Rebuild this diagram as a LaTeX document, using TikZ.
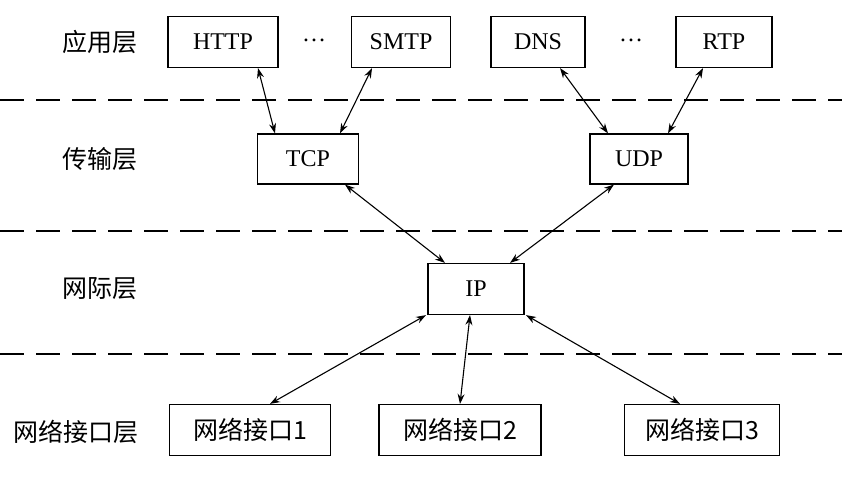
\documentclass[tikz,border=0pt]{standalone}
\usepackage{fontspec}
\setmainfont{Liberation Serif}
\newfontfamily\cjk{Noto Sans CJK SC}
\usetikzlibrary{positioning,arrows.meta}
\begin{document}
\begin{tikzpicture}[x=1pt,y=-1pt,
  box/.style={draw,line width=1.2pt,rectangle,minimum height=51pt,inner sep=0pt,
    font=\fontsize{24}{28}\selectfont},
  lay/.style={font=\cjk\fontsize{25}{28}\selectfont},
  sep/.style={line width=1.2pt,dash pattern=on 24pt off 12pt},
  link/.style={line width=1.1pt,{Stealth[length=10pt,width=7pt]}-{Stealth[length=10pt,width=7pt]}}]
\useasboundingbox (0,0) rectangle (842,478);
% layer names
\node[lay] (app) at (100,42) {应用层};
\node[lay] (trans) at (100,159) {传输层};
\node[lay] (net) at (100,289) {网际层};
\node[lay] (link) at (76,432) {网络接口层};
% separators
\draw[sep] (0,100) -- (842,100);
\draw[sep] (0,231) -- (842,231);
\draw[sep] (0,354) -- (842,354);
% protocols
\node[box,minimum width=110pt] (http) at (223,42) {HTTP};
\node[box,minimum width=99pt] (smtp) at (401,42) {SMTP};
\node[box,minimum width=94pt] (dns) at (538,42) {DNS};
\node[box,minimum width=96pt] (rtp) at (724,42) {RTP};
\node[font=\fontsize{24}{28}\selectfont] (dotsa) at (314,40) {\ldots};
\node[font=\fontsize{24}{28}\selectfont] (dotsb) at (631,40) {\ldots};
\node[box,minimum width=101pt,minimum height=50pt] (tcp) at (308,159) {TCP};
\node[box,minimum width=98pt,minimum height=50pt] (udp) at (639,159) {UDP};
\node[box,minimum width=96pt] (ip) at (476,289) {IP};
\node[box,minimum width=161pt,font=\cjk\fontsize{25}{28}\selectfont] (if1) at (250,430) {网络接口1};
\node[box,minimum width=162pt,font=\cjk\fontsize{25}{28}\selectfont] (if2) at (460,430) {网络接口2};
\node[box,minimum width=155pt,font=\cjk\fontsize{25}{28}\selectfont] (if3) at (702,430) {网络接口3};
% arrows
\draw[link] ([xshift=35pt]http.south) -- ([xshift=-33pt]tcp.north);
\draw[link] ([xshift=-29pt]smtp.south) -- ([xshift=32pt]tcp.north);
\draw[link] ([xshift=22pt]dns.south) -- ([xshift=-31pt]udp.north);
\draw[link] ([xshift=-21pt]rtp.south) -- ([xshift=29pt]udp.north);
\draw[link] ([xshift=37pt]tcp.south) -- ([xshift=-31pt]ip.north);
\draw[link] ([xshift=-25pt]udp.south) -- ([xshift=34pt]ip.north);
\draw[link] ([xshift=-50pt]ip.south) -- ([xshift=20pt]if1.north);
\draw[link] ([xshift=-6pt]ip.south) -- (if2.north);
\draw[link] ([xshift=50pt]ip.south) -- ([xshift=-22pt]if3.north);
\end{tikzpicture}
\end{document}
